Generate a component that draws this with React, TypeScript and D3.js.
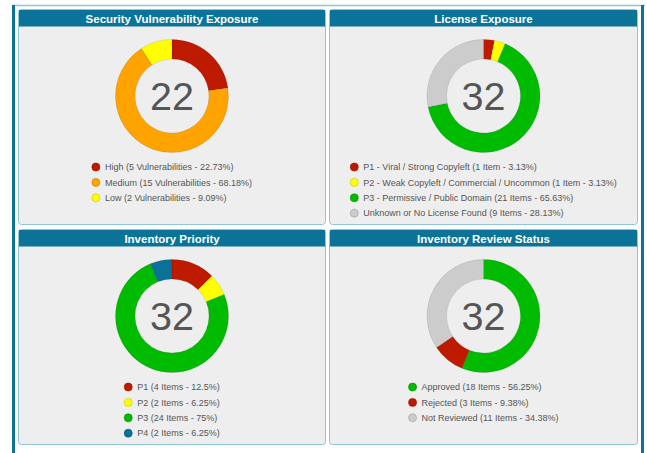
import React from 'react';
import * as d3 from 'd3';

const W = 647;
const H = 453;

const panelTitles = [
  'Security Vulnerability Exposure',
  'License Exposure',
  'Inventory Priority',
  'Inventory Review Status',
];

const securityValues = [5, 15, 2];
const securityColors = ['#bd1a00', '#ffa300', '#ffff00'];
const securityLabels = [
  'High (5 Vulnerabilities - 22.73%)',
  'Medium (15 Vulnerabilities - 68.18%)',
  'Low (2 Vulnerabilities - 9.09%)',
];

const licenseValues = [1, 1, 21, 9];
const licenseColors = ['#bd1a00', '#ffff00', '#00bb00', '#cccccc'];
const licenseLabels = [
  'P1 - Viral / Strong Copyleft (1 Item - 3.13%)',
  'P2 - Weak Copyleft / Commercial / Uncommon (1 Item - 3.13%)',
  'P3 - Permissive / Public Domain (21 Items - 65.63%)',
  'Unknown or No License Found (9 Items - 28.13%)',
];

const priorityValues = [4, 2, 24, 2];
const priorityColors = ['#bd1a00', '#ffff00', '#00bb00', '#0b7198'];
const priorityLabels = [
  'P1 (4 Items - 12.5%)',
  'P2 (2 Items - 6.25%)',
  'P3 (24 Items - 75%)',
  'P4 (2 Items - 6.25%)',
];

const reviewValues = [18, 3, 11];
const reviewColors = ['#00bb00', '#bd1a00', '#cccccc'];
const reviewLabels = [
  'Approved (18 Items - 56.25%)',
  'Rejected (3 Items - 9.38%)',
  'Not Reviewed (11 Items - 34.38%)',
];

const panelsData = [
  { values: securityValues, colors: securityColors, labels: securityLabels },
  { values: licenseValues, colors: licenseColors, labels: licenseLabels },
  { values: priorityValues, colors: priorityColors, labels: priorityLabels },
  { values: reviewValues, colors: reviewColors, labels: reviewLabels },
];

const FONT = "'Liberation Sans', Arial, sans-serif";
const HEADER = '#0a7397';
const BORDER = '#8fc5d9';

function measure(text: string, font: string): number {
  const c = document.createElement('canvas');
  const ctx = c.getContext('2d');
  if (!ctx) return text.length * 4.5;
  ctx.font = font;
  return ctx.measureText(text).width;
}

function Panel({ x, y, w, h, title, values, colors, labels }: any) {
  const cx = x + w / 2;
  const cy = y + 87;
  const pie = d3.pie<number>().sort(null).value((d) => d);
  const arcs = pie(values);
  const arc = d3.arc<d3.PieArcDatum<number>>().innerRadius(37).outerRadius(56.5);
  const total = d3.sum(values);
  const legendFont = `9px ${FONT}`;
  const maxW = d3.max(labels.map((l: string) => measure(l, legendFont))) as number;
  const blockW = 4 + 9 + maxW;
  const lx = cx - blockW / 2 + 4;
  const ly = y + 158;
  return (
    <g>
      <rect x={x + 0.5} y={y + 0.5} width={w - 1} height={h - 1} rx={3} fill="#eeeeee" stroke={BORDER} strokeWidth={1} />
      <rect x={x + 1} y={y + 1} width={w - 2} height={16.5} fill={HEADER} />
      <text x={cx} y={y + 13.5} textAnchor="middle" fill="#ffffff" fontFamily={FONT} fontWeight="bold" fontSize={11.5}>
        {title}
      </text>
      <g transform={`translate(${cx},${cy})`}>
        {arcs.map((a, i) => (
          <path key={i} d={arc(a) as string} fill={colors[i]} stroke="rgba(0,0,0,0.12)" strokeWidth={0.8} />
        ))}
        <text x={0} y={14} textAnchor="middle" fill="#555555" fontFamily={FONT} fontSize={39.5}>
          {total}
        </text>
      </g>
      {labels.map((l: string, i: number) => (
        <g key={i} transform={`translate(${lx},${ly + i * 15.4})`}>
          <circle r={4} fill={colors[i]} stroke={d3.color(colors[i])!.darker(0.6).toString()} strokeWidth={0.7} />
          <text x={9} y={3.2} fill="#555555" fontFamily={FONT} fontSize={9}>
            {l}
          </text>
        </g>
      ))}
    </g>
  );
}

export default function App() {
  const xs = [18, 329];
  const ws = [308, 309];
  const ys = [9, 229];
  const hs = [216, 216];
  return (
    <svg width={W} height={H} style={{ position: 'absolute', left: 0, top: 0, background: '#ffffff' }}>
      <rect x={0} y={0} width={W} height={H} fill="#ffffff" />
      <line x1={12} x2={645} y1={5.5} y2={5.5} stroke={BORDER} strokeWidth={1.5} />
      <rect x={12} y={5} width={3} height={H - 5} fill={HEADER} />
      <rect x={641} y={5} width={3} height={H - 5} fill={HEADER} />
      {panelsData.map((p, i) => (
        <Panel
          key={i}
          x={xs[i % 2]}
          y={ys[Math.floor(i / 2)]}
          w={ws[i % 2]}
          h={hs[Math.floor(i / 2)]}
          title={panelTitles[i]}
          values={p.values}
          colors={p.colors}
          labels={p.labels}
        />
      ))}
    </svg>
  );
}
